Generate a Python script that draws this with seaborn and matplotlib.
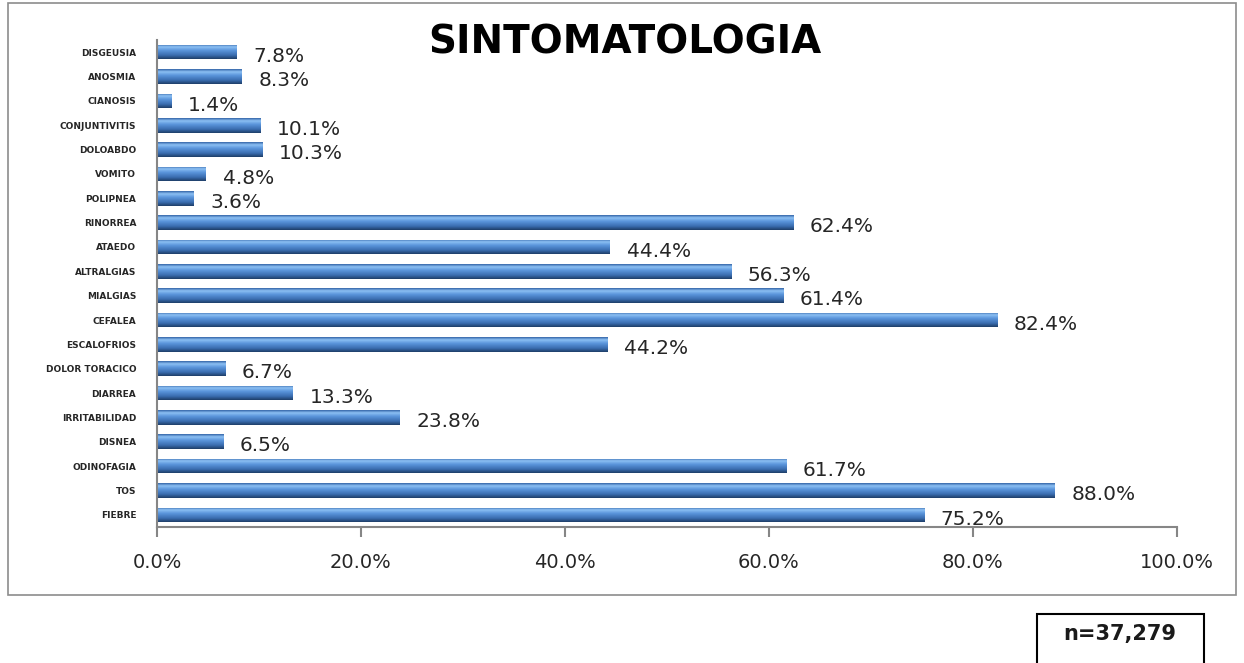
import numpy as np
import pandas as pd
import matplotlib
matplotlib.use('Agg')
import matplotlib.pyplot as plt
import seaborn as sns
from matplotlib.colors import LinearSegmentedColormap
from matplotlib.patches import Rectangle
from matplotlib.ticker import FuncFormatter

# Datos (de arriba hacia abajo)
sintomas = ['DISGEUSIA', 'ANOSMIA', 'CIANOSIS', 'CONJUNTIVITIS', 'DOLOABDO',
            'VOMITO', 'POLIPNEA', 'RINORREA', 'ATAEDO', 'ALTRALGIAS',
            'MIALGIAS', 'CEFALEA', 'ESCALOFRIOS', 'DOLOR TORACICO', 'DIARREA',
            'IRRITABILIDAD', 'DISNEA', 'ODINOFAGIA', 'TOS', 'FIEBRE']
porcentajes = [7.8, 8.3, 1.4, 10.1, 10.3,
               4.8, 3.6, 62.4, 44.4, 56.3,
               61.4, 82.4, 44.2, 6.7, 13.3,
               23.8, 6.5, 61.7, 88.0, 75.2]
ticks_x = [0, 20, 40, 60, 80, 100]
titulo = 'SINTOMATOLOGIA'
n_texto = 'n=37,279'

df = pd.DataFrame({'Sintoma': sintomas, 'Porcentaje': porcentajes})

sns.set_style('white')
plt.rcParams['font.family'] = ['DejaVu Sans']

fig = plt.figure(figsize=(12.44, 6.63), dpi=100)
ax = fig.add_axes([0.1262, 0.2051, 0.8199, 0.7346])

sns.barplot(data=df, x='Porcentaje', y='Sintoma', orient='h', color='#4F81BD',
            width=0.6, ax=ax, edgecolor='none')

# Degradado tipo 3D en cada barra
cmap = LinearSegmentedColormap.from_list('bar3d', [
    (0.0, '#3566A8'), (0.18, '#8CC0F4'), (0.42, '#5A95DB'),
    (0.75, '#3A6DAF'), (1.0, '#1E3E69')])
grad = np.linspace(0, 1, 64).reshape(-1, 1)
xlim = (0, 100)
ylim = ax.get_ylim()
for patch in list(ax.patches):
    bb = patch.get_bbox()
    patch.set_facecolor('none')
    im = ax.imshow(grad, cmap=cmap, aspect='auto', origin='upper',
                   extent=(bb.x0, bb.x1, bb.y1, bb.y0), zorder=2)
    im.set_clip_path(patch)
ax.set_xlim(*xlim)
ax.set_ylim(*ylim)

# Etiquetas de valor
for i, v in enumerate(porcentajes):
    ax.annotate(f'{v:.1f}%', xy=(v, i), xytext=(12, -3), textcoords='offset points',
                va='center', ha='left', fontsize=14.5, color='#262626')

ax.set_xticks(ticks_x)
ax.xaxis.set_major_formatter(FuncFormatter(lambda x, p: f'{x:.1f}%'))
ax.set_xlabel('')
ax.set_ylabel('')
ax.tick_params(axis='x', bottom=True, direction='out', length=7, width=1.5,
               color='#868686', labelsize=14, labelcolor='#262626', pad=12)
ax.tick_params(axis='y', left=False, length=0, labelsize=6.5,
               labelcolor='#262626', pad=15)
for lbl in ax.get_yticklabels():
    lbl.set_fontweight('bold')
sns.despine(ax=ax, top=True, right=True)
for s in ['left', 'bottom']:
    ax.spines[s].set_color('#868686')
    ax.spines[s].set_linewidth(1.5)

# Título
fig.text(625 / 1244, 1 - 43 / 663, titulo, ha='center', va='center',
         fontsize=28, fontweight='bold', color='#000000')

# Marco exterior del gráfico
fig.patches.append(Rectangle((8 / 1244, 1 - 595 / 663), 1228 / 1244, 592 / 663,
                             transform=fig.transFigure, fill=False,
                             edgecolor='#8C8C8C', linewidth=1.2))

# Recuadro n
fig.patches.append(Rectangle((1037 / 1244, -0.01), 167 / 1244, 56 / 663,
                             transform=fig.transFigure, fill=False,
                             edgecolor='#000000', linewidth=1.5))
fig.text(1120 / 1244, 1 - 634 / 663, n_texto, ha='center', va='center',
         fontsize=15, fontweight='bold', color='#1a1a1a')

fig.savefig('out.png', dpi=100)
